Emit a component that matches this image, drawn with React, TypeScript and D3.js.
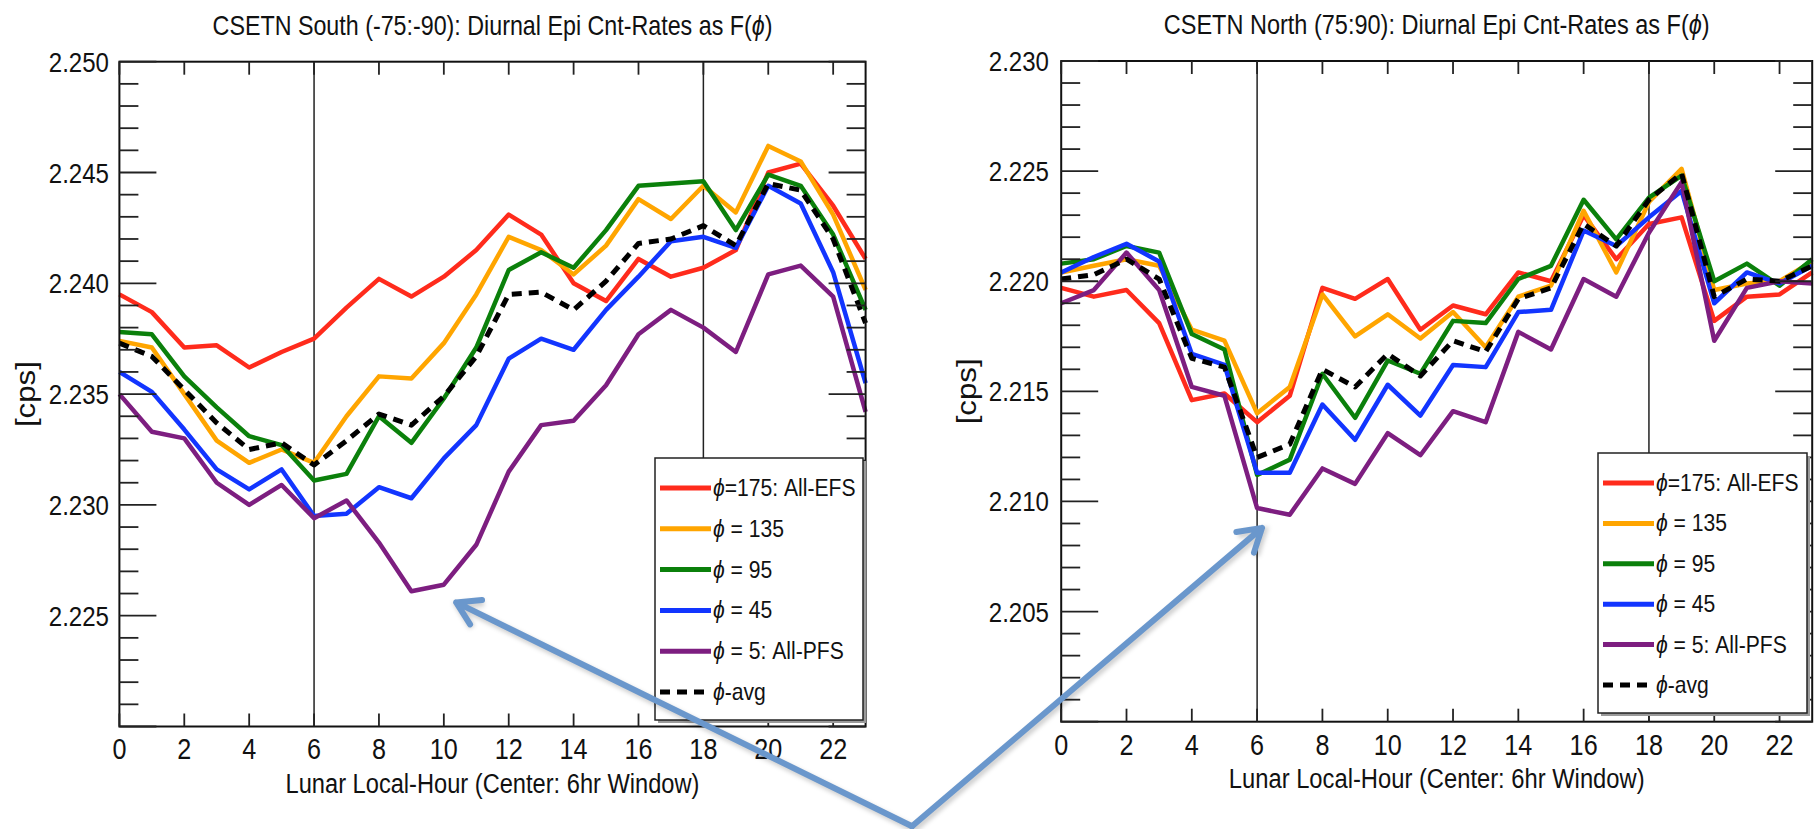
import React, { useRef, useEffect } from "react";
import * as d3 from "d3";

// Lunar local hour (centre of 6hr window)
const hours = [0, 1, 2, 3, 4, 5, 6, 7, 8, 9, 10, 11, 12, 13, 14, 15, 16, 17, 18, 19, 20, 21, 22, 23];

// CSETN South (-75:-90)
const southEfs = [2.2395, 2.2387, 2.2371, 2.2372, 2.2362, 2.2369, 2.2375, 2.2389, 2.2402, 2.2394, 2.2403, 2.2415, 2.2431, 2.2422, 2.24, 2.2392, 2.2411, 2.2403, 2.2407, 2.2415, 2.245, 2.2454, 2.2435, 2.2411];
const south135 = [2.2374, 2.2371, 2.235, 2.2329, 2.2319, 2.2325, 2.2319, 2.234, 2.2358, 2.2357, 2.2373, 2.2395, 2.2421, 2.2415, 2.2404, 2.2417, 2.2438, 2.2429, 2.2444, 2.2432, 2.2462, 2.2455, 2.2431, 2.2397];
const south95 = [2.2378, 2.2377, 2.2358, 2.2344, 2.2331, 2.2327, 2.2311, 2.2314, 2.234, 2.2328, 2.2348, 2.2371, 2.2406, 2.2414, 2.2407, 2.2424, 2.2444, 2.2445, 2.2446, 2.2424, 2.2449, 2.2444, 2.2422, 2.2388];
const south45 = [2.236, 2.2351, 2.2334, 2.2316, 2.2307, 2.2316, 2.2295, 2.2296, 2.2308, 2.2303, 2.2321, 2.2336, 2.2366, 2.2375, 2.237, 2.2388, 2.2403, 2.2419, 2.2421, 2.2416, 2.2444, 2.2436, 2.2405, 2.2355];
const southPfs = [2.235, 2.2333, 2.233, 2.231, 2.23, 2.2309, 2.2294, 2.2302, 2.2283, 2.2261, 2.2264, 2.2282, 2.2315, 2.2336, 2.2338, 2.2354, 2.2377, 2.2388, 2.238, 2.2369, 2.2404, 2.2408, 2.2394, 2.2342];
const southAvg = [2.2373, 2.2367, 2.2352, 2.2337, 2.2325, 2.2328, 2.2318, 2.2329, 2.2341, 2.2336, 2.2349, 2.2367, 2.2395, 2.2396, 2.2388, 2.2401, 2.2418, 2.242, 2.2426, 2.2417, 2.2445, 2.2442, 2.242, 2.2382];

// CSETN North (75:90)
const northEfs = [2.2197, 2.2193, 2.2196, 2.2181, 2.2146, 2.2149, 2.2136, 2.2148, 2.2197, 2.2192, 2.2201, 2.2178, 2.2189, 2.2185, 2.2204, 2.22, 2.223, 2.221, 2.2226, 2.2229, 2.2182, 2.2193, 2.2194, 2.2204];
const north135 = [2.2204, 2.2207, 2.221, 2.2207, 2.2178, 2.2173, 2.214, 2.2152, 2.2194, 2.2175, 2.2185, 2.2174, 2.2186, 2.217, 2.2193, 2.2198, 2.2232, 2.2204, 2.2236, 2.2251, 2.2196, 2.2199, 2.22, 2.2209];
const north95 = [2.2208, 2.221, 2.2216, 2.2213, 2.2176, 2.2169, 2.2112, 2.2119, 2.2158, 2.2138, 2.2164, 2.2158, 2.2182, 2.2181, 2.2201, 2.2207, 2.2237, 2.2219, 2.2238, 2.2248, 2.22, 2.2208, 2.2198, 2.221];
const north45 = [2.2204, 2.2211, 2.2217, 2.2209, 2.2167, 2.2162, 2.2113, 2.2113, 2.2144, 2.2128, 2.2153, 2.2139, 2.2162, 2.2161, 2.2186, 2.2187, 2.2223, 2.2216, 2.2229, 2.2241, 2.219, 2.2204, 2.2199, 2.2207];
const northPfs = [2.219, 2.2196, 2.2213, 2.2196, 2.2152, 2.2148, 2.2097, 2.2094, 2.2115, 2.2108, 2.2131, 2.2121, 2.2141, 2.2136, 2.2177, 2.2169, 2.2201, 2.2193, 2.2222, 2.2245, 2.2173, 2.2197, 2.22, 2.2199];
const northAvg = [2.2201, 2.2203, 2.221, 2.2201, 2.2165, 2.2161, 2.212, 2.2126, 2.216, 2.2152, 2.2167, 2.2157, 2.2173, 2.2168, 2.2192, 2.2197, 2.2226, 2.2216, 2.2237, 2.2249, 2.2193, 2.2201, 2.22, 2.2207];

const seriesLabels = ["=175: All-EFS", " = 135", " = 95", " = 45", " = 5: All-PFS", "-avg"];
const seriesColors = ["#ff2b1c", "#ffa500", "#0b800b", "#1235ff", "#7d1e80", "#000000"];

const xTickLabels = [0, 2, 4, 6, 8, 10, 12, 14, 16, 18, 20, 22];
const southYTicks = [2.225, 2.23, 2.235, 2.24, 2.245, 2.25];
const northYTicks = [2.205, 2.21, 2.215, 2.22, 2.225, 2.23];
const markerHours = [6, 18];

// arrows: common origin (south panel coords) -> targets
const arrowOrigin = { hour: 24.43, value: 2.2155 };
const arrowSouthTip = { hour: 10.38, value: 2.2256 };
const arrowNorthTip = { hour: 6.15, value: 2.2088 };

const FONT = "'Liberation Sans', Arial, Helvetica, sans-serif";
const PHI = "\u03D5";

const panels = [
  {
    title: "CSETN South (-75:-90): Diurnal Epi Cnt-Rates as F(",
    series: [southEfs, south135, south95, south45, southPfs, southAvg],
    yTicks: southYTicks,
    domain: [2.22, 2.25],
    left: 119.4, right: 865.6, top: 61.7, bottom: 726.5,
    titleY: 35, titleLen: 560,
    xLabelY: 759, xTitleY: 793, xTitleLen: 414,
    yLabelX: 26, yLabelRight: 109,
    legend: { x: 655, y: 458, w: 208, h: 262, row0: 488, step: 40.8 },
  },
  {
    title: "CSETN North (75:90): Diurnal Epi Cnt-Rates as F(",
    series: [northEfs, north135, north95, north45, northPfs, northAvg],
    yTicks: northYTicks,
    domain: [2.2, 2.23],
    left: 1061.2, right: 1812.2, top: 61, bottom: 721.7,
    titleY: 34, titleLen: 546,
    xLabelY: 755, xTitleY: 788, xTitleLen: 416,
    yLabelX: 967, yLabelRight: 1049,
    legend: { x: 1598, y: 453, w: 209, h: 260, row0: 483, step: 40.4 },
  },
];

function condensed(g, x, y, str, size, sx, anchor = "start") {
  return g
    .append("text")
    .attr("transform", `translate(${x},${y}) scale(${sx},1)`)
    .attr("text-anchor", anchor)
    .attr("font-size", size)
    .text(str);
}

// squeeze a text horizontally so it fills the given width
function fitWidth(text, cx, y, width) {
  const natural = text.node().getComputedTextLength() || width;
  text.attr("transform", `translate(${cx},${y}) scale(${width / natural},1)`);
}

function drawPanel(svg, p) {
  const x = d3.scaleLinear().domain([0, 23]).range([p.left, p.right]);
  const y = d3.scaleLinear().domain(p.domain).range([p.bottom, p.top]);
  const g = svg.append("g").attr("font-family", FONT).attr("fill", "#111");

  // title
  const t = g
    .append("text")
    .attr("text-anchor", "middle")
    .attr("font-size", 28);
  t.append("tspan").text(p.title);
  t.append("tspan").attr("font-style", "italic").text(PHI);
  t.append("tspan").text(")");
  fitWidth(t, (p.left + p.right) / 2, p.titleY, p.titleLen);

  // 6 and 18 hour markers
  g.selectAll(".marker")
    .data(markerHours)
    .join("line")
    .attr("x1", (d) => x(d))
    .attr("x2", (d) => x(d))
    .attr("y1", p.top)
    .attr("y2", p.bottom)
    .attr("stroke", "#222")
    .attr("stroke-width", 1.5);

  // series
  const line = d3
    .line()
    .x((d, i) => x(hours[i]))
    .y((d) => y(d));
  p.series.forEach((s, i) => {
    g.append("path")
      .datum(s)
      .attr("fill", "none")
      .attr("stroke", seriesColors[i])
      .attr("stroke-width", i === 5 ? 5 : 4.5)
      .attr("stroke-dasharray", i === 5 ? "10,7" : null)
      .attr("stroke-linejoin", "round")
      .attr("d", line);
  });

  // frame
  g.append("rect")
    .attr("x", p.left)
    .attr("y", p.top)
    .attr("width", p.right - p.left)
    .attr("height", p.bottom - p.top)
    .attr("fill", "none")
    .attr("stroke", "#111")
    .attr("stroke-width", 2);

  // y ticks, both sides, pointing in
  const minor = y.ticks(30);
  const major = y.ticks(6).map((d) => +d.toFixed(3));
  minor.forEach((v) => {
    const isMajor = major.some((m) => Math.abs(m - v) < 1e-7);
    const len = isMajor ? 37 : 19;
    g.append("line")
      .attr("x1", p.left).attr("x2", p.left + len)
      .attr("y1", y(v)).attr("y2", y(v))
      .attr("stroke", "#222").attr("stroke-width", 1.8);
    g.append("line")
      .attr("x1", p.right).attr("x2", p.right - len)
      .attr("y1", y(v)).attr("y2", y(v))
      .attr("stroke", "#222").attr("stroke-width", 1.8);
  });

  // x ticks top & bottom
  xTickLabels.forEach((h) => {
    g.append("line")
      .attr("x1", x(h)).attr("x2", x(h))
      .attr("y1", p.bottom).attr("y2", p.bottom - 13)
      .attr("stroke", "#222").attr("stroke-width", 1.8);
    g.append("line")
      .attr("x1", x(h)).attr("x2", x(h))
      .attr("y1", p.top).attr("y2", p.top + 13)
      .attr("stroke", "#222").attr("stroke-width", 1.8);
    condensed(g, x(h), p.xLabelY, String(h), 30, 0.84, "middle");
  });

  // y tick labels
  p.yTicks.forEach((v) => {
    condensed(g, p.yLabelRight, y(v) + 10, v.toFixed(3), 28, 0.86, "end");
  });

  // axis titles
  const xt = g
    .append("text")
    .attr("text-anchor", "middle")
    .attr("font-size", 28)
    .text("Lunar Local-Hour (Center: 6hr Window)");
  fitWidth(xt, (p.left + p.right) / 2, p.xTitleY, p.xTitleLen);

  g.append("text")
    .attr("transform", `translate(${p.yLabelX},${(p.top + p.bottom) / 2}) rotate(-90)`)
    .attr("text-anchor", "middle")
    .attr("dy", "0.35em")
    .attr("font-size", 27)
    .attr("textLength", 66)
    .attr("lengthAdjust", "spacingAndGlyphs")
    .text("[cps]");

  // legend
  const L = p.legend;
  g.append("rect")
    .attr("x", L.x + 3).attr("y", L.y + 3)
    .attr("width", L.w).attr("height", L.h)
    .attr("fill", "#9a9a9a");
  g.append("rect")
    .attr("x", L.x).attr("y", L.y)
    .attr("width", L.w).attr("height", L.h)
    .attr("fill", "#fff")
    .attr("stroke", "#222")
    .attr("stroke-width", 1.5);
  seriesLabels.forEach((lab, i) => {
    const ry = L.row0 + i * L.step;
    g.append("line")
      .attr("x1", L.x + 5).attr("x2", L.x + 56)
      .attr("y1", ry).attr("y2", ry)
      .attr("stroke", seriesColors[i])
      .attr("stroke-width", 5)
      .attr("stroke-dasharray", i === 5 ? "10,7" : null);
    const tx = g
      .append("text")
      .attr("transform", `translate(${L.x + 58},${ry + 8}) scale(0.88,1)`)
      .attr("font-size", 24);
    tx.append("tspan").attr("font-style", "italic").text(PHI);
    tx.append("tspan").text(lab);
  });

  return { x, y };
}

function drawArrow(svg, from, to) {
  const ang = Math.atan2(to[1] - from[1], to[0] - from[0]);
  const head = 26;
  const spread = 0.55;
  const b1 = [to[0] - head * Math.cos(ang - spread), to[1] - head * Math.sin(ang - spread)];
  const b2 = [to[0] - head * Math.cos(ang + spread), to[1] - head * Math.sin(ang + spread)];
  const d = `M${from[0]},${from[1]}L${to[0]},${to[1]}M${b1[0]},${b1[1]}L${to[0]},${to[1]}L${b2[0]},${b2[1]}`;
  svg.append("path")
    .attr("d", d)
    .attr("transform", "translate(2,3)")
    .attr("fill", "none")
    .attr("stroke", "#000")
    .attr("stroke-opacity", 0.18)
    .attr("stroke-width", 7)
    .attr("filter", "url(#blur)");
  svg.append("path")
    .attr("d", d)
    .attr("fill", "none")
    .attr("stroke", "#6a97cc")
    .attr("stroke-width", 6)
    .attr("stroke-linecap", "round")
    .attr("stroke-linejoin", "round");
}

const DiurnalCharts = () => {
  const ref = useRef(null);

  useEffect(() => {
    document.body.style.margin = "0";
    const width = 1816;
    const height = 829;

    d3.select(ref.current).selectAll("*").remove();
    const svg = d3
      .select(ref.current)
      .append("svg")
      .attr("width", width)
      .attr("height", height)
      .style("display", "block")
      .style("background", "#fff");

    svg.append("defs")
      .append("filter")
      .attr("id", "blur")
      .append("feGaussianBlur")
      .attr("stdDeviation", 2);

    const [south, north] = panels.map((p) => drawPanel(svg, p));

    const o = [south.x(arrowOrigin.hour), south.y(arrowOrigin.value)];
    drawArrow(svg, o, [south.x(arrowSouthTip.hour), south.y(arrowSouthTip.value)]);
    drawArrow(svg, o, [north.x(arrowNorthTip.hour), north.y(arrowNorthTip.value)]);
  }, []);

  return <div ref={ref}></div>;
};

export default function App() {
  return <DiurnalCharts />;
}
